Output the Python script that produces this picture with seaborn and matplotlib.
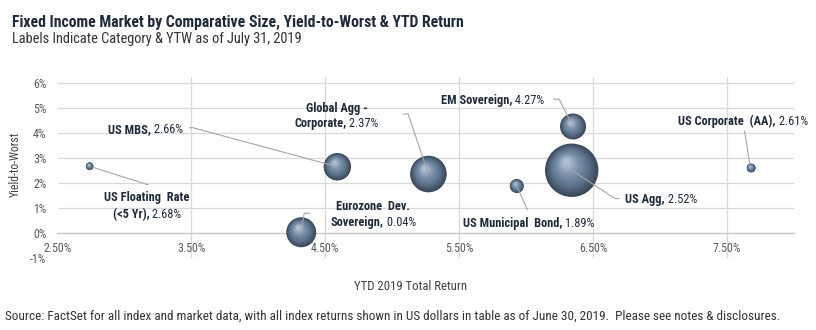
import numpy as np
import pandas as pd
import matplotlib
matplotlib.use("Agg")
import matplotlib.pyplot as plt
from matplotlib.path import Path
from matplotlib.colors import LinearSegmentedColormap
from matplotlib import font_manager
import seaborn as sns

# ---- data -------------------------------------------------------------
categories = [
    "US Floating Rate (<5 Yr)", "US MBS", "Global Agg - Corporate",
    "Eurozone Dev. Sovereign", "US Municipal Bond", "EM Sovereign",
    "US Agg", "US Corporate (AA)",
]
ytd_return = [2.74, 4.59, 5.27, 4.32, 5.93, 6.35, 6.34, 7.68]   # x, %
ytw = [2.68, 2.66, 2.37, 0.04, 1.89, 4.27, 2.52, 2.61]          # y, %
market_size = [0.45, 5.8, 10.3, 6.9, 1.5, 5.2, 22.0, 0.6]       # bubble size
x_ticks = [2.5, 3.5, 4.5, 5.5, 6.5, 7.5]
y_ticks = [-1, 0, 1, 2, 3, 4, 5, 6]

df = pd.DataFrame({"category": categories, "ytd": ytd_return,
                   "ytw": ytw, "size": market_size})

# ---- fonts ------------------------------------------------------------
sns.set_theme(style="white")
available = {f.name for f in font_manager.fontManager.ttflist}
FONT = "Roboto"
for fam in ["Roboto Condensed", "Liberation Sans Narrow", "Arial Narrow"]:
    if fam in available:
        FONT = fam
        break
plt.rcParams["font.family"] = [FONT, "DejaVu Sans"]

NAVY = "#1e2a3a"
GREY_TXT = "#595959"

# ---- figure / axes ----------------------------------------------------
W, H = 816, 330
fig = plt.figure(figsize=(W / 100, H / 100), dpi=100)
ax = fig.add_axes([57.5 / W, 1 - 258.3 / H, (794 - 57.5) / W, (258.3 - 77) / H])
ax.set_xlim(2.5, 8.0)
ax.set_ylim(-1, 6.25)
ax.set_xticks(x_ticks)
ax.set_yticks(y_ticks)
ax.set_xticklabels([f"{v:.2f}%" for v in x_ticks])
ax.set_yticklabels([f"{v:d}%" for v in y_ticks])
ax.grid(True, color="#d9d9d9", linewidth=0.9)
ax.set_axisbelow(True)
for side in ["top", "right", "left"]:
    ax.spines[side].set_visible(False)
ax.spines["bottom"].set_position(("data", 0))
ax.spines["bottom"].set_color("#c8c8c8")
ax.spines["bottom"].set_linewidth(0.9)
ax.tick_params(axis="x", length=0, pad=6.5, labelsize=8.6, labelcolor=GREY_TXT)
ax.tick_params(axis="y", length=0, pad=8, labelsize=8.6, labelcolor=GREY_TXT)

# ---- shaded bubbles ---------------------------------------------------
def shade_marker(frac, t):
    """Circle of relative radius `frac`, nudged toward the highlight."""
    r = 0.5 * frac
    cx, cy = -0.10 * t, 0.15 * t
    circ = Path.circle((cx, cy), r)
    verts = np.vstack([[[0.5, 0.5]], [[-0.5, -0.5]], circ.vertices])
    codes = np.concatenate([[Path.MOVETO, Path.MOVETO], circ.codes])
    return Path(verts, codes)

shade = LinearSegmentedColormap.from_list(
    "sphere", [(0.0, "#3b4859"), (0.3, "#5a6f88"), (0.65, "#7a8fa8"),
               (1.0, "#b0c0d2")])

S_MAX = 1480
n_layers = 22
for k in range(n_layers):
    t = k / (n_layers - 1)
    frac = 1.0 - 0.88 * t
    sns.scatterplot(data=df, x="ytd", y="ytw", size="size",
                    sizes=(0, S_MAX), size_norm=(0, max(market_size)),
                    marker=shade_marker(frac, t), color=shade(t),
                    linewidth=0, legend=False, ax=ax, zorder=3 + k * 0.01)
ax.set_xlabel("")
ax.set_ylabel("")

# ---- labels & leader lines -------------------------------------------
LABEL_FS = 8.9
renderer = fig.canvas.get_renderer()

def px_to_data(x, y, dx, dy):
    px, py = ax.transData.transform((x, y))
    return ax.transData.inverted().transform((px + dx, py - dy))

def text_w(s, weight):
    t = fig.text(0, 0, s, fontsize=LABEL_FS, fontweight=weight)
    w = t.get_window_extent(renderer).width
    t.remove()
    return w

# per label: lines (bold text, value appended?), anchor x, line centre y's
# (pixel offsets from the bubble, y downward), alignment, leader path
layout = {
    "US Floating Rate (<5 Yr)": dict(
        lines=[("US Floating  Rate", False), ("(<5 Yr),", True)],
        ax_=57.5, ys=[30.7, 47.3], ha="center",
        leader=[(3, 1), (59, 18.7)]),
    "US MBS": dict(
        lines=[("US MBS,", True)], ax_=-154.3, ys=[-38.3], ha="right",
        leader=[(0, 0), (-144.3, -39), (-148.3, -39)]),
    "Global Agg - Corporate": dict(
        lines=[("Global Agg -", False), ("Corporate,", True)],
        ax_=-92, ys=[-66.7, -51.3], ha="center",
        leader=[(0, 0), (-20.3, -60), (-25.6, -60)]),
    "Eurozone Dev. Sovereign": dict(
        lines=[("Eurozone  Dev.", False), ("Sovereign,", True)],
        ax_=72, ys=[-26.7, -10.7], ha="center",
        leader=[(0, 0), (3, -19), (9, -19)]),
    "US Municipal Bond": dict(
        lines=[("US Municipal  Bond,", True)], ax_=11.7, ys=[36.3],
        ha="center", leader=[(0, 0), (10.7, 24)]),
    "EM Sovereign": dict(
        lines=[("EM Sovereign,", True)], ax_=-80.3, ys=[-26.7], ha="center",
        leader=[(0, 0), (-14, -27.4), (-20, -27.4)]),
    "US Agg": dict(
        lines=[("US Agg,", True)], ax_=53.6, ys=[28.3], ha="left",
        leader=[(0, 0), (43.3, 28.3), (47.6, 28.3)]),
    "US Corporate (AA)": dict(
        lines=[("US Corporate  (AA),", True)], ax_=-8.3, ys=[-47.3],
        ha="center", leader=[(-1.3, -3.5), (-6.6, -37.3)]),
}

for cat, x, y, v in zip(categories, ytd_return, ytw, ytw):
    spec = layout[cat]
    pts = np.array([px_to_data(x, y, dx, dy) for dx, dy in spec["leader"]])
    ax.plot(pts[:, 0], pts[:, 1], color="#a6a6a6", lw=0.8, zorder=4,
            solid_capstyle="butt")
    for (bold, with_val), ly in zip(spec["lines"], spec["ys"]):
        val = f" {v:.2f}%" if with_val else ""
        wb = text_w(bold, "bold")
        wr = text_w(val, "normal") if val else 0.0
        total = wb + wr
        if spec["ha"] == "center":
            left = spec["ax_"] - total / 2
        elif spec["ha"] == "right":
            left = spec["ax_"] - total
        else:
            left = spec["ax_"]
        bx, by = px_to_data(x, y, left, ly + 4.2)
        ax.text(bx, by, bold, fontsize=LABEL_FS, fontweight="bold",
                color=NAVY, ha="left", va="baseline", zorder=5)
        if val:
            rx, ry = px_to_data(x, y, left + wb, ly + 4.2)
            ax.text(rx, ry, val, fontsize=LABEL_FS, color=NAVY,
                    ha="left", va="baseline", zorder=5)

# ---- titles & notes ---------------------------------------------------
fig.text(12 / W, 1 - 26.7 / H,
         "Fixed Income Market by Comparative Size, Yield-to-Worst & YTD Return",
         fontsize=11.3, fontweight="bold", color=NAVY, va="baseline")
fig.text(12 / W, 1 - 43.5 / H,
         "Labels Indicate Category & YTW as of July 31, 2019",
         fontsize=10.4, color="#333333", va="baseline")
fig.text(15 / W, 1 - 164 / H, "Yield-to-Worst", rotation=90,
         fontsize=8.5, color="#404040", ha="center", va="center")
fig.text(411 / W, 1 - 287 / H, "YTD 2019 Total Return",
         fontsize=9.2, color="#404040", ha="center", va="center")
fig.text(5 / W, 1 - 316 / H,
         "Source: FactSet for all index and market data, with all index returns "
         "shown in US dollars in table as of June 30, 2019.  Please see notes & "
         "disclosures.",
         fontsize=9.5, color="#333333", ha="left", va="center")

fig.savefig("out.png", dpi=100)
